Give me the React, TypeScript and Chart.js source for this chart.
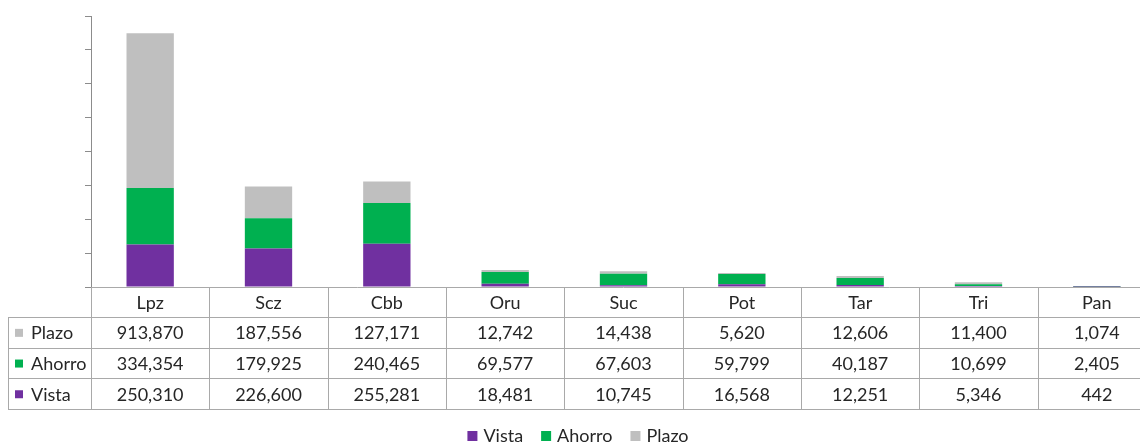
import React, { useEffect, useRef } from "react";
import { Chart, registerables } from "chart.js";

Chart.register(...registerables);

const categories = ["Lpz", "Scz", "Cbb", "Oru", "Suc", "Pot", "Tar", "Tri", "Pan"];
const vista = [250310, 226600, 255281, 18481, 10745, 16568, 12251, 5346, 442];
const ahorro = [334354, 179925, 240465, 69577, 67603, 59799, 40187, 10699, 2405];
const plazo = [913870, 187556, 127171, 12742, 14438, 5620, 12606, 11400, 1074];
const seriesNames = ["Vista", "Ahorro", "Plazo"];
const seriesColors = ["#7030A0", "#00B050", "#BFBFBF"];
const yMax = 1600000;
const yStep = 200000;

const FONT = "Lato, 'Open Sans', sans-serif";
const TEXT = "#262626";
const LINE = "#A9A9A9";

const tablePlugin = {
  id: "dataTable",
  afterDraw(chart: any) {
    const { ctx, chartArea } = chart;
    const xs = chart.scales.x;
    const n = categories.length;
    const left = chartArea.left;
    const right = chartArea.right;
    const colW = (right - left) / n;
    const top = chartArea.bottom;
    const headerH = 30;
    const rowH = 30.7;
    const labelLeft = 8;
    const rowsDs = [2, 1, 0];
    const bottom = top + headerH + rowH * rowsDs.length;
    const px = (v: number) => Math.round(v) + 0.5;

    ctx.save();
    ctx.strokeStyle = LINE;
    ctx.lineWidth = 1;
    ctx.beginPath();
    // axis / header top line
    ctx.moveTo(left, px(top));
    ctx.lineTo(right, px(top));
    // header bottom line and row lines
    for (let r = 0; r <= rowsDs.length; r++) {
      const y = px(top + headerH + r * rowH);
      ctx.moveTo(labelLeft, y);
      ctx.lineTo(right, y);
    }
    // vertical lines
    for (let c = 0; c <= n; c++) {
      const x = px(left + c * colW);
      ctx.moveTo(x, top);
      ctx.lineTo(x, bottom);
    }
    ctx.moveTo(px(labelLeft), top + headerH);
    ctx.lineTo(px(labelLeft), bottom);
    ctx.stroke();

    ctx.font = `18px ${FONT}`;
    ctx.fillStyle = TEXT;
    ctx.textBaseline = "middle";
    ctx.textAlign = "center";
    for (let i = 0; i < n; i++) {
      const cx = xs.getPixelForValue(i);
      ctx.fillText(categories[i], cx, top + headerH / 2 + 1);
    }
    rowsDs.forEach((di, r) => {
      const ds = chart.data.datasets[di];
      const cy = top + headerH + r * rowH + rowH / 2 + 1;
      ctx.fillStyle = ds.backgroundColor;
      ctx.fillRect(15, cy - 4.5, 8, 8);
      ctx.fillStyle = TEXT;
      ctx.textAlign = "left";
      ctx.fillText(ds.label, 31, cy);
      ctx.textAlign = "center";
      for (let i = 0; i < n; i++) {
        const cx = xs.getPixelForValue(i);
        ctx.fillText((ds.data[i] as number).toLocaleString("en-US"), cx, cy);
      }
    });

    // legend
    const ly = 436;
    const box = 10;
    const gap = 6;
    const itemGap = 18;
    const widths = chart.data.datasets.map((d: any) => ctx.measureText(d.label).width);
    const total =
      widths.reduce((a: number, b: number) => a + b, 0) +
      chart.data.datasets.length * (box + gap) +
      itemGap * (chart.data.datasets.length - 1);
    let x = 578 - total / 2;
    ctx.textAlign = "left";
    chart.data.datasets.forEach((d: any, i: number) => {
      ctx.fillStyle = d.backgroundColor;
      ctx.fillRect(x, ly - 5, box, box);
      x += box + gap;
      ctx.fillStyle = TEXT;
      ctx.fillText(d.label, x, ly);
      x += widths[i] + itemGap;
    });
    ctx.restore();
  },
};

export default function App() {
  const ref = useRef<HTMLCanvasElement | null>(null);
  useEffect(() => {
    document.body.style.margin = "0";
    document.body.style.overflow = "hidden";
    const canvas = ref.current!;
    const seriesData = [vista, ahorro, plazo];
    const chart = new Chart(canvas, {
      type: "bar",
      data: {
        labels: categories,
        datasets: seriesNames.map((name, i) => ({
          label: name,
          data: seriesData[i],
          backgroundColor: seriesColors[i],
          borderWidth: 0,
          barPercentage: 0.4,
          categoryPercentage: 1,
        })),
      },
      options: {
        responsive: false,
        animation: false,
        devicePixelRatio: 1,
        layout: { padding: { left: 85, top: 16, right: 4, bottom: 156 } },
        plugins: { legend: { display: false }, tooltip: { enabled: false } },
        scales: {
          x: { stacked: true, display: false },
          y: {
            stacked: true,
            min: 0,
            max: yMax,
            ticks: { display: false, stepSize: yStep },
            grid: { drawOnChartArea: false, drawTicks: true, tickLength: 6, color: "#8C8C8C" },
            border: { display: true, color: "#8C8C8C" },
          },
        },
      },
      plugins: [tablePlugin],
    });
    return () => chart.destroy();
  }, []);
  return (
    <div style={{ width: 1140, height: 443, overflow: "hidden", position: "relative" }}>
      <canvas ref={ref} width={1160} height={443} style={{ display: "block" }} />
    </div>
  );
}
